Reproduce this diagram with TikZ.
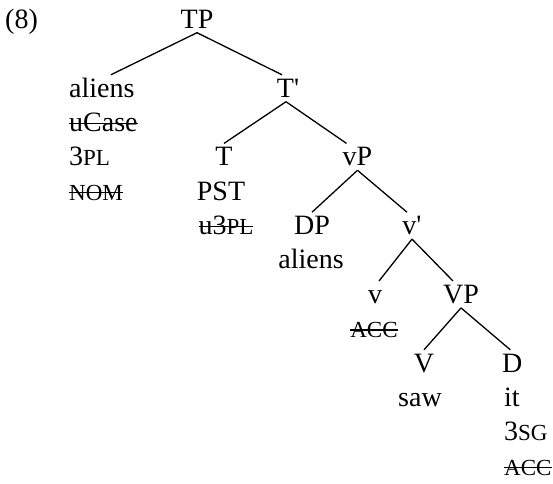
\documentclass[tikz,border=0pt]{standalone}
\usepackage{fontspec}
\setmainfont{Liberation Serif}
\usepackage{tikz}

% fake small caps, struck-out features, straight prime
\newcommand{\fsc}[1]{{\fontsize{23}{23}\selectfont #1}}
\newcommand{\strike}[1]{{\setbox0\hbox{#1}\rlap{\rule[0.25em]{\wd0}{1.3pt}}\box0}}
\newcommand{\prm}{\textquotesingle}

\tikzset{
  cat/.style={inner sep=0pt, anchor=base, text height=22pt, text depth=4.5pt},
  feat/.style={inner sep=0pt, anchor=base},
  featl/.style={inner sep=0pt, anchor=base west},
  branch/.style={line width=1.3pt},
}

\begin{document}
\begin{tikzpicture}[x=1pt, y=-1pt, font=\fontsize{28}{32}\selectfont]
                \useasboundingbox (0,0) rectangle (553,483);

                % Example number
                \node[featl] (exnum) at (5,28) {(8)};

                % Root
                \node[cat] (TP) at (197,28) {TP};

                % Subject
                \node[cat, anchor=base west] (aliensA) at (69,97) {aliens};
                \node[featl] (ucase) at (69,131.2) {\strike{uCase}};
                \node[featl] (plA) at (69,165.6) {3\fsc{PL}};
                \node[featl] (nom) at (69,200) {\strike{\fsc{NOM}}};

                % T-bar and T
                \node[cat] (Tbar) at (288,97) {T\prm};
                \node[cat] (T) at (224,165.6) {T};
                \node[feat] (pst) at (221,200) {PST};
                \node[feat] (uplT) at (226,234.4) {\strike{u3\fsc{PL}}};

                % vP
                \node[cat] (vP) at (357.5,165.6) {vP};
                \node[cat] (DP) at (312,234.4) {DP};
                \node[feat] (aliensB) at (311,268.8) {aliens};
                \node[cat] (vbar) at (412,234.4) {v\prm};
                \node[cat] (v) at (375,303.2) {v};
                \node[feat] (accv) at (374,337.6) {\strike{\fsc{ACC}}};

                % VP
                \node[cat] (VP) at (461,303.2) {VP};
                \node[cat] (V) at (424,372) {V};
                \node[feat] (saw) at (420,406.4) {saw};
                \node[cat, anchor=base west] (D) at (502,372) {D};
                \node[featl] (it) at (504,406.4) {it};
                \node[featl] (sg) at (504,440.8) {3\fsc{SG}};
                \node[featl] (accD) at (504,475.2) {\strike{\fsc{ACC}}};

                % Branches
                \draw[branch] (TP.south) -- ([xshift=9pt]aliensA.north);
                \draw[branch] (TP.south) -- ([xshift=-6pt]Tbar.north);
                \draw[branch] ([xshift=-2pt]Tbar.south) -- (T.north);
                \draw[branch] ([xshift=-2pt]Tbar.south) -- ([xshift=-11pt]vP.north);
                \draw[branch] (vP.south) -- (DP.north);
                \draw[branch] (vP.south) -- ([xshift=-5pt]vbar.north);
                \draw[branch] (vbar.south) -- ([xshift=4pt]v.north);
                \draw[branch] (vbar.south) -- ([xshift=-8pt]VP.north);
                \draw[branch] (VP.south) -- (V.north);
                \draw[branch] (VP.south) -- ([xshift=-2pt]D.north);
            \end{tikzpicture}
\end{document}
